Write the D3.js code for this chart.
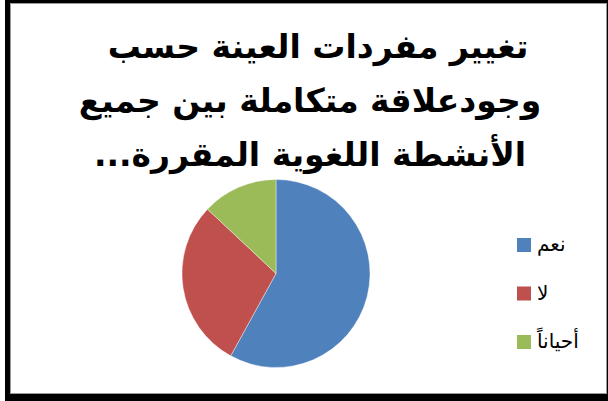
<!DOCTYPE html>
<html>
<head>
<meta charset="utf-8">
<script src="https://cdn.jsdelivr.net/npm/d3@7"></script>
<style>
  body { margin: 0; background: #fff; }
  svg { display: block; }
</style>
</head>
<body>
<svg></svg>
<script>
/* data */
var categories = ['نعم', 'لا', 'أحياناً'];
var values = [58, 29, 13];
var colors = ['#4F81BD', '#C0504D', '#9BBB59'];
var titleLines = ['تغيير مفردات العينة حسب', 'وجودعلاقة متكاملة بين جميع', 'الأنشطة اللغوية المقررة...'];

/* svg setting */
var svgWidth = 608;
var svgHeight = 401;
var center = {x: 276, y: 273.5};
var radius = 94;

var svg = d3.select('svg')
    .attr('width', svgWidth)
    .attr('height', svgHeight);

/* frame with shadow */
svg.append('rect')
    .attr('x', 5).attr('y', 0)
    .attr('width', 603).attr('height', 401)
    .attr('fill', '#000');
svg.append('rect')
    .attr('x', 10.5).attr('y', 3.5)
    .attr('width', 596).attr('height', 390)
    .attr('fill', '#fff')
    .attr('stroke', '#9a9a9a')
    .attr('stroke-width', 1);

/* title */
var title = svg.append('g')
    .attr('font-family', 'DejaVu Sans, sans-serif')
    .attr('font-weight', 'bold')
    .attr('font-size', 33)
    .attr('text-anchor', 'middle');

title.selectAll('text')
    .data(titleLines)
    .enter()
    .append('text')
    .attr('direction', 'rtl')
    .attr('x', function(d, i){ return i === 0 ? 318 : 310; })
    .attr('y', function(d, i){ return 58 + i * 54; })
    .text(function(d){ return d; });

/* pie */
var pie = d3.pie().sort(null).value(function(d){ return d; });
var arc = d3.arc().innerRadius(0).outerRadius(radius);

var g = svg.append('g')
    .attr('transform', translate(center.x, center.y));

g.selectAll('path')
    .data(pie(values))
    .enter()
    .append('path')
    .attr('d', arc)
    .attr('fill', function(d, i){ return colors[i]; })
    .attr('stroke', '#fff')
    .attr('stroke-width', 0.4);

/* legend */
var legend = svg.append('g')
    .attr('font-family', 'DejaVu Sans, sans-serif')
    .attr('font-size', 20);

var items = legend.selectAll('g')
    .data(categories)
    .enter()
    .append('g')
    .attr('transform', function(d, i){ return translate(517, 245 + i * 48.5); });

items.append('rect')
    .attr('x', 0).attr('y', -7)
    .attr('width', 14).attr('height', 14)
    .attr('fill', function(d, i){ return colors[i]; });

items.append('text')
    .attr('x', 20)
    .attr('y', 6)
    .text(function(d){ return d; });

function translate(x, y) {
    return 'translate(' + x + ',' + y + ')';
}
</script>
</body>
</html>
